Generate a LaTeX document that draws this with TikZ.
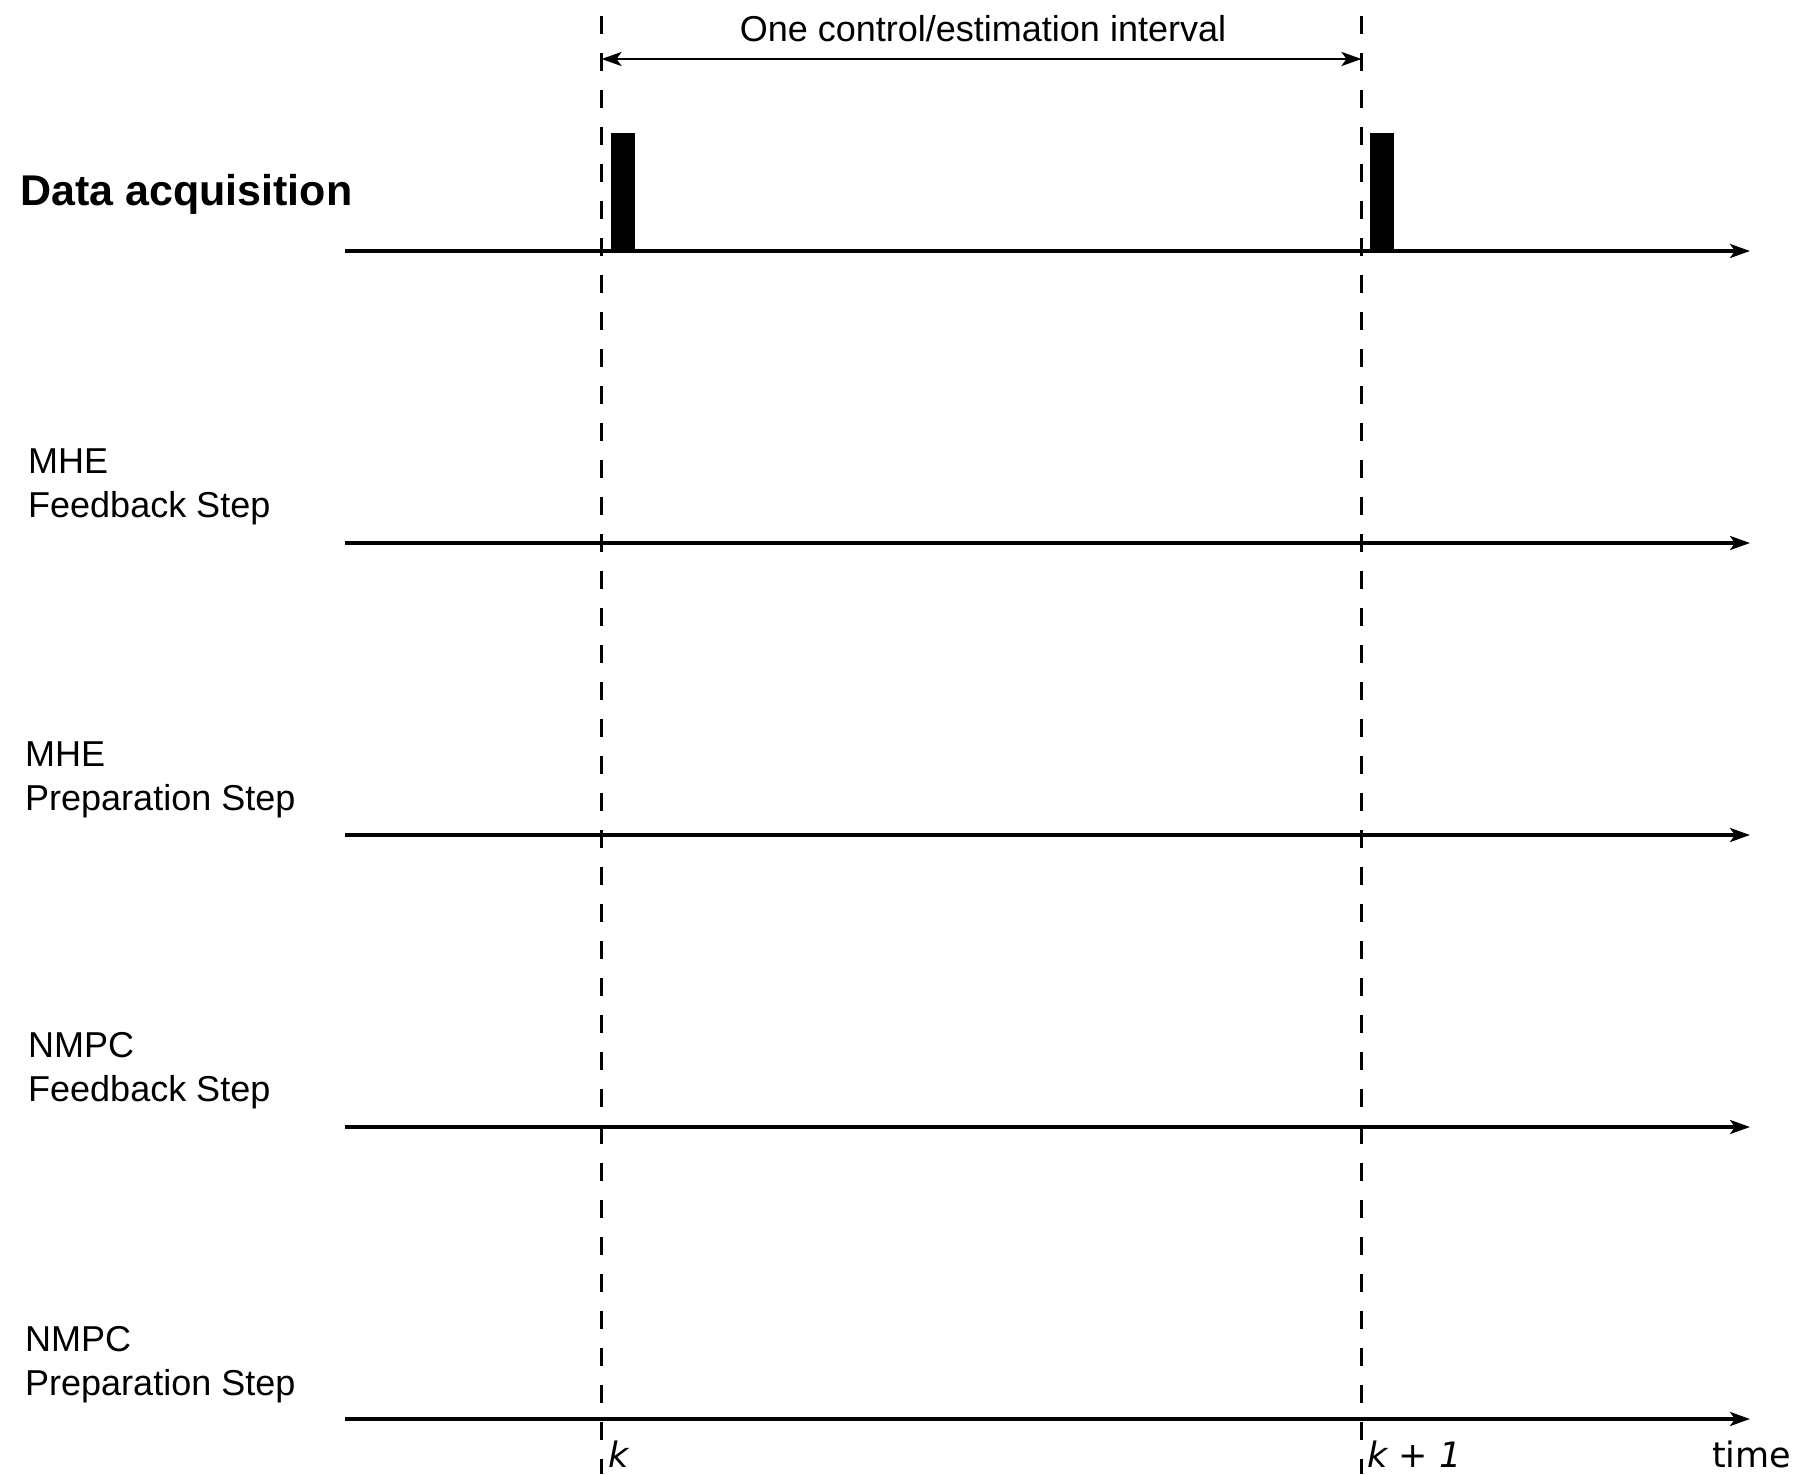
\documentclass[tikz,border=0pt]{standalone}
\usepackage{fontspec}
\setmainfont{Liberation Sans}
\newfontfamily\dejavu{DejaVu Sans}
\usetikzlibrary{arrows.meta}
\begin{document}
\begin{tikzpicture}[x=1pt,y=-1pt,
  axisline/.style={line width=3.2pt,-{Stealth[length=20pt,width=14pt,inset=5pt]}},
  guide/.style={line width=2.7pt,dash pattern=on 18pt off 19pt},
  spanline/.style={line width=2.9pt,{Stealth[length=20pt,width=14pt,inset=5pt]}-{Stealth[length=20pt,width=14pt,inset=5pt]}},
  lbl/.style={inner sep=0pt,anchor=base west,font=\fontsize{36}{43}\selectfont},
  ticklbl/.style={inner sep=0pt,anchor=base west,font=\dejavu\fontsize{35}{40}\selectfont},
  barbox/.style={fill=black,draw=none,inner sep=0pt,minimum width=24pt,minimum height=119pt,anchor=south west}]
\fill[white] (0,0) rectangle (1803,1474);
\useasboundingbox (0,0) rectangle (1803,1474);

% axes
\foreach \n/\y in {a/251,b/543,c/835,d/1127,e/1419}{
  \coordinate (\n0) at (345,\y);
  \coordinate (\n1) at (1750,\y);
  \draw[axisline] (\n0) -- (\n1);
}

% bars
\node[barbox] (bar1) at (611,252) {};
\node[barbox] (bar2) at (1370,252) {};

% dashed guides
\coordinate (g1t) at (601.5,16);
\coordinate (g1b) at (601.5,1474);
\coordinate (g2t) at (1361.5,16);
\coordinate (g2b) at (1361.5,1474);
\draw[guide] (g1t) -- (g1b);
\draw[guide] (g2t) -- (g2b);

% interval arrow
\coordinate (s1) at (601.5,59);
\coordinate (s2) at (1361.5,59);
\draw[spanline] (s1) -- (s2);
\node[inner sep=0pt,anchor=base,font=\fontsize{36}{43}\selectfont] (title) at (983,42) {One control/estimation interval};

% row labels
\node[inner sep=0pt,anchor=base west,font=\bfseries\fontsize{43}{50}\selectfont] (lda) at (20,205) {Data acquisition};
\node[lbl] (l1a) at (28,473) {MHE};
\node[lbl] (l1b) at (28,517) {Feedback Step};
\node[lbl] (l2a) at (25,766) {MHE};
\node[lbl] (l2b) at (25,810) {Preparation Step};
\node[lbl] (l3a) at (28,1057) {NMPC};
\node[lbl] (l3b) at (28,1101) {Feedback Step};
\node[lbl] (l4a) at (25,1351) {NMPC};
\node[lbl] (l4b) at (25,1395) {Preparation Step};

% tick labels
\node[ticklbl] (k0) at (608,1467) {\itshape k};
\node[ticklbl] (k1) at (1367,1467) {\itshape k + 1};
\node[ticklbl] (tm) at (1712,1467) {time};
\end{tikzpicture}
\end{document}
